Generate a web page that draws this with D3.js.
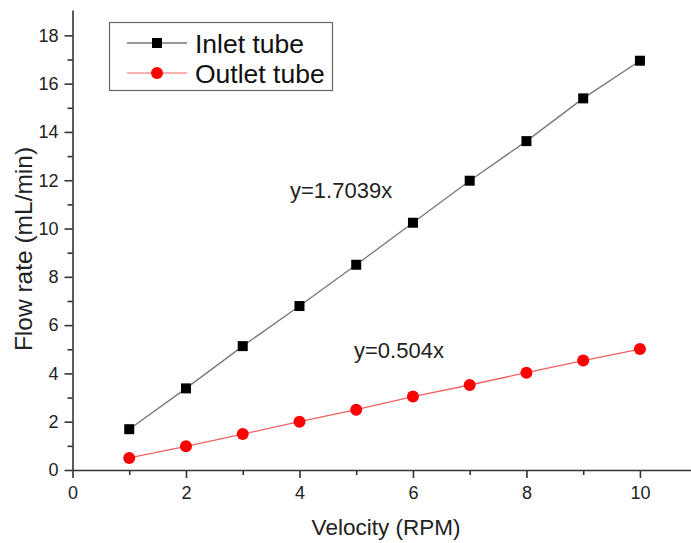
<!DOCTYPE html>
<html>
<head>
<meta charset="utf-8">
<script src="https://cdn.jsdelivr.net/npm/d3@7"></script>
<style>
  html, body { margin: 0; padding: 0; background: #fff; }
  svg { display: block; font-family: "Liberation Sans", Arial, sans-serif; }
</style>
</head>
<body>
<svg id="chart" width="691" height="543"></svg>
<script>
// Rotational speed of the pump (RPM)
const velocity = [1, 2, 3, 4, 5, 6, 7, 8, 9, 10];
// Measured flow rates (mL/min)
const inletFlow = [1.69, 3.38, 5.13, 6.79, 8.50, 10.24, 11.98, 13.62, 15.39, 16.95];
const outletFlow = [0.50, 0.98, 1.49, 2.00, 2.50, 3.04, 3.52, 4.03, 4.53, 5.01];
// Axis ticks
const xMajorTicks = [0, 2, 4, 6, 8, 10];
const xMinorTicks = [1, 3, 5, 7, 9];
const yMajorTicks = [0, 2, 4, 6, 8, 10, 12, 14, 16, 18];
const yMinorTicks = [1, 3, 5, 7, 9, 11, 13, 15, 17];
// Series names and fitted equations
const seriesNames = ["Inlet tube", "Outlet tube"];
const fitLabels = ["y=1.7039x", "y=0.504x"];

const svg = d3.select("#chart");
const m = { left: 72.5, right: 0, top: 10, bottom: 73 };
const W = 691, H = 543;

const x = d3.scaleLinear().domain([0, 10.9]).range([m.left, W - m.right]);
const y = d3.scaleLinear().domain([0, 19.05]).range([H - m.bottom, m.top]);

const axisColor = "#333";

// X axis
const xAxis = svg.append("g").attr("transform", `translate(0,${H - m.bottom})`);
xAxis.call(d3.axisBottom(x).tickValues(xMajorTicks).tickSize(8).tickSizeOuter(0).tickPadding(8).tickFormat(d3.format("d")));
xAxis.append("g").call(d3.axisBottom(x).tickValues(xMinorTicks).tickSize(5).tickSizeOuter(0).tickFormat(""))
  .select(".domain").remove();

// Y axis
const yAxis = svg.append("g").attr("transform", `translate(${m.left},0)`);
yAxis.call(d3.axisLeft(y).tickValues(yMajorTicks).tickSize(8).tickSizeOuter(0).tickPadding(6).tickFormat(d3.format("d")));
yAxis.append("g").call(d3.axisLeft(y).tickValues(yMinorTicks).tickSize(5).tickSizeOuter(0).tickFormat(""))
  .select(".domain").remove();

svg.selectAll(".domain").attr("stroke", axisColor).attr("stroke-width", 1.6);
svg.selectAll(".tick line").attr("stroke", axisColor).attr("stroke-width", 1.6);
svg.selectAll(".tick text").attr("font-size", 18).attr("fill", "#222")
  .attr("font-family", "'Liberation Sans', Arial, sans-serif");

// Axis titles
svg.append("text")
  .attr("x", 386).attr("y", 535)
  .attr("text-anchor", "middle").attr("font-size", 22.5).attr("fill", "#222")
  .text("Velocity (RPM)");
svg.append("text")
  .attr("transform", "translate(32,249) rotate(-90)")
  .attr("text-anchor", "middle").attr("font-size", 24.5).attr("fill", "#222")
  .text("Flow rate (mL/min)");

// Series
const inlet = velocity.map((v, i) => ({ x: v, y: inletFlow[i] }));
const outlet = velocity.map((v, i) => ({ x: v, y: outletFlow[i] }));
const line = d3.line().x(d => x(d.x)).y(d => y(d.y));

svg.append("path").datum(inlet).attr("d", line)
  .attr("fill", "none").attr("stroke", "#777").attr("stroke-width", 1.3);
svg.append("path").datum(outlet).attr("d", line)
  .attr("fill", "none").attr("stroke", "#f06060").attr("stroke-width", 1.3);

const sq = 10;
svg.append("g").selectAll("rect").data(inlet).join("rect")
  .attr("x", d => x(d.x) - sq / 2).attr("y", d => y(d.y) - sq / 2)
  .attr("width", sq).attr("height", sq).attr("fill", "#000");
svg.append("g").selectAll("circle").data(outlet).join("circle")
  .attr("cx", d => x(d.x)).attr("cy", d => y(d.y)).attr("r", 6)
  .attr("fill", "#f00");

// Fit equations
svg.append("text").attr("x", 290).attr("y", 197.5)
  .attr("font-size", 22).attr("fill", "#222").text(fitLabels[0]);
svg.append("text").attr("x", 354).attr("y", 358)
  .attr("font-size", 22).attr("fill", "#222").text(fitLabels[1]);

// Legend
const lg = svg.append("g");
lg.append("rect").attr("x", 109.5).attr("y", 22.5).attr("width", 223).attr("height", 68)
  .attr("fill", "#fff").attr("stroke", "#666").attr("stroke-width", 1.2);
const rows = [
  { name: seriesNames[0], stroke: "#333", shape: "square" },
  { name: seriesNames[1], stroke: "#f06060", shape: "circle" }
];
rows.forEach((r, i) => {
  const cy = 43 + i * 30;
  lg.append("line").attr("x1", 127).attr("x2", 187).attr("y1", cy).attr("y2", cy)
    .attr("stroke", r.stroke).attr("stroke-width", 1.2);
  if (r.shape === "square") {
    lg.append("rect").attr("x", 157 - 5).attr("y", cy - 5).attr("width", 10).attr("height", 10).attr("fill", "#000");
  } else {
    lg.append("circle").attr("cx", 157).attr("cy", cy).attr("r", 6).attr("fill", "#f00");
  }
  lg.append("text").attr("x", 195).attr("y", cy + 9.5)
    .attr("font-size", 26.5).attr("fill", "#111").text(r.name);
});
</script>
</body>
</html>
